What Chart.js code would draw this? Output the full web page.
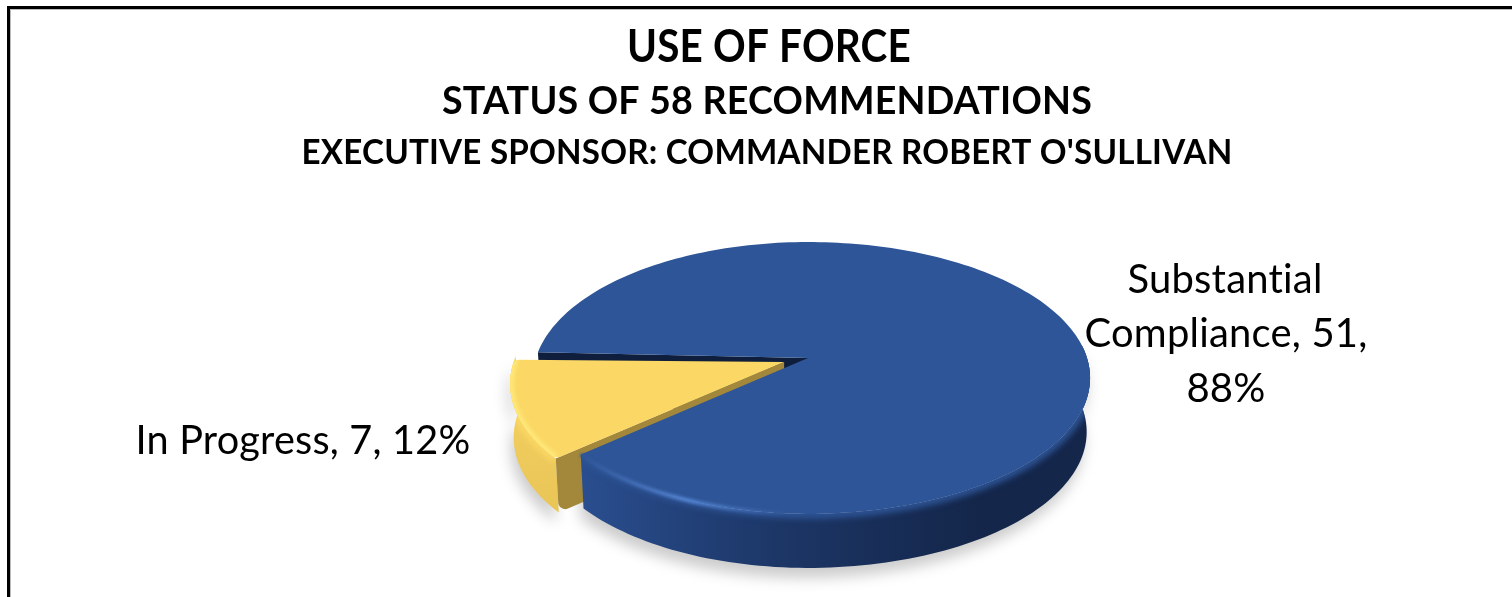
<!DOCTYPE html>
<html>
<head>
<meta charset="utf-8">
<title>Use of Force</title>
<script src="https://cdn.jsdelivr.net/npm/chart.js@4"></script>
<style>
  html, body { margin: 0; background: #fff; overflow: hidden; }
  #wrap { position: relative; width: 1512px; height: 597px; }
  #frame { position: absolute; left: 7px; top: 6px; right: -10px; bottom: -10px;
           border-left: 3px solid #000; border-top: 3px solid #000; box-shadow: inset 1px 1px 0 #bbb; }
  canvas { position: absolute; left: 0; top: 0; }
</style>
</head>
<body>
<div id="wrap">
  <div id="frame"></div>
  <canvas id="pie" width="1512" height="597"></canvas>
</div>
<script>
const categories = ['In Progress', 'Substantial Compliance'];
const counts = [7, 51];
const percents = [12, 88];
const titleLines = ['USE OF FORCE', 'STATUS OF 58 RECOMMENDATIONS', "EXECUTIVE SPONSOR: COMMANDER ROBERT O'SULLIVAN"];

const topColors = ['#FBD865', '#2E5597'];
const rimColors = ['#FFE97A', '#5585D3'];

// how the flat pie gets tipped back
const SCALE_X = 279 / 270, SCALE_Y = 133 / 270, PERSP = 0.147, DEPTH = 54;
const LEFT_SQUEEZE = 0.975;
const EXPLODED_RADIUS = 0.99;

function project(el, u, v, dz) {
    const d = 1 - PERSP * v;
    const shrink = (1 - 0.012 * dz / DEPTH) * (u < 0 ? LEFT_SQUEEZE : 1);
    return [
        el.x + SCALE_X * el.outerRadius * u / d * shrink,
        el.y + SCALE_Y * el.outerRadius * v / d + dz
    ];
}

// points of the slice rim, in flat pie units, shifted by the explode offset
function rim(el) {
    const off = (el.options.offset || 0) / el.outerRadius;
    const size = off ? EXPLODED_RADIUS : 1;
    const mid = (el.startAngle + el.endAngle) / 2;
    const ou = Math.cos(mid) * off, ov = Math.sin(mid) * off;
    const pts = [];
    const steps = Math.ceil((el.endAngle - el.startAngle) * 40);
    for (let i = 0; i <= steps; i++) {
        const a = el.startAngle + (el.endAngle - el.startAngle) * i / steps;
        pts.push([ou + Math.cos(a) * size, ov + Math.sin(a) * size]);
    }
    return { ou, ov, pts };
}

// corners: indexes of the points to round off, the point after a corner gets skipped
function trace(ctx, list, corners = [], r = 0) {
    ctx.beginPath();
    ctx.moveTo(list[0][0], list[0][1]);
    for (let i = 1; i < list.length; i++) {
        if (corners.includes(i)) {
            const next = list[(i + 2) % list.length];
            ctx.arcTo(list[i][0], list[i][1], next[0], next[1], r);
            i++;
        } else {
            ctx.lineTo(list[i][0], list[i][1]);
        }
    }
    ctx.closePath();
}

function topFace(el, r) {
    return [project(el, r.ou, r.ov, 0), ...r.pts.map(p => project(el, p[0], p[1], 0))];
}

function outerWall(el, pts) {
    const front = pts.map(p => project(el, p[0], p[1], 0));
    const back = pts.map(p => project(el, p[0], p[1], DEPTH)).reverse();
    return front.concat(back);
}

function cutWall(el, r, p) {
    const low = project(el, p[0], p[1], DEPTH);
    const tipLow = project(el, r.ou, r.ov, DEPTH);
    return [
        project(el, r.ou, r.ov, 0), project(el, p[0], p[1], 0),
        low, [(low[0] + tipLow[0]) / 2, (low[1] + tipLow[1]) / 2], tipLow
    ];
}

function strokeLine(ctx, list) {
    ctx.beginPath();
    list.forEach((q, i) => i ? ctx.lineTo(q[0], q[1]) : ctx.moveTo(q[0], q[1]));
    ctx.stroke();
}

// top colour bleeding over the wall, so the bevel looks soft
function softEdge(ctx, el, wall, pts, color) {
    ctx.save();
    trace(ctx, wall);
    ctx.clip();
    ctx.filter = 'blur(3px)';
    ctx.strokeStyle = color;
    ctx.lineWidth = 9;
    strokeLine(ctx, pts.map(p => project(el, p[0], p[1], 0)));
    ctx.restore();
}

const pie3d = {
    id: 'pie3d',
    beforeDatasetDraw(chart) {
        const ctx = chart.ctx;
        const [yellow, blue] = chart.getDatasetMeta(0).data;
        const ry = rim(yellow), rb = rim(blue);
        // the back of the blue wall is never seen and must not cover the yellow slice
        const blueFront = rb.pts.filter(p => p[1] > 0 || (p[0] > 0 && p[1] > -0.12));
        const yellowWall = outerWall(yellow, ry.pts);
        const blueWall = outerWall(blue, blueFront);

        // soft ground shadow
        ctx.save();
        ctx.filter = 'blur(7px)';
        ctx.fillStyle = 'rgba(0,0,0,0.2)';
        ctx.translate(-3, 10);
        trace(ctx, blueWall);
        ctx.fill();
        trace(ctx, yellowWall);
        ctx.fill();
        ctx.restore();

        // blue cut face seen through the gap
        ctx.fillStyle = '#0E1E3C';
        trace(ctx, cutWall(blue, rb, rb.pts[0]));
        ctx.fill();

        // yellow slice
        const n = ry.pts.length;
        const wallY = ctx.createLinearGradient(0, 380, 0, 515);
        wallY.addColorStop(0, '#F4D060');
        wallY.addColorStop(1, '#E9C558');
        ctx.fillStyle = wallY;
        trace(ctx, yellowWall, [n], 7);
        ctx.fill();
        ctx.fillStyle = '#A3883B';
        trace(ctx, cutWall(yellow, ry, ry.pts[0]), [2], 7);
        ctx.fill();
        softEdge(ctx, yellow, yellowWall, ry.pts, topColors[0]);
        ctx.fillStyle = topColors[0];
        trace(ctx, topFace(yellow, ry), [1, n - 1], 8);
        ctx.fill();
        // pale band just inside the yellow rim
        ctx.save();
        trace(ctx, topFace(yellow, ry), [1, n - 1], 8);
        ctx.clip();
        ctx.filter = 'blur(2px)';
        ctx.strokeStyle = rimColors[0];
        ctx.lineWidth = 7;
        strokeLine(ctx, ry.pts.map(p => project(yellow, p[0], p[1], 0)));
        ctx.restore();

        // blue slice
        const left = blue.x - SCALE_X * blue.outerRadius;
        const wallB = ctx.createLinearGradient(left + 50, 0, left + 450, 0);
        wallB.addColorStop(0, '#2A4E8F');
        wallB.addColorStop(0.5, '#1C3666');
        wallB.addColorStop(1, '#14264A');
        ctx.fillStyle = wallB;
        trace(ctx, blueWall);
        ctx.fill();
        softEdge(ctx, blue, blueWall, blueFront, topColors[1]);
        ctx.fillStyle = topColors[1];
        trace(ctx, topFace(blue, rb));
        ctx.fill();

        // light streak along the front rim, fading to the right
        const streak = rb.pts.slice(-Math.floor(rb.pts.length * 0.15));
        const line = streak.map(p => project(blue, p[0], p[1], 0));
        const fade = ctx.createLinearGradient(line[line.length - 1][0], 0, line[0][0], 0);
        fade.addColorStop(0, '#2E5597');
        fade.addColorStop(0.5, rimColors[1]);
        fade.addColorStop(1, 'rgba(85,133,211,0)');
        ctx.save();
        ctx.filter = 'blur(1.5px)';
        ctx.strokeStyle = fade;
        ctx.lineWidth = 4;
        strokeLine(ctx, line);
        ctx.restore();
        return false;
    },
    afterDraw(chart) {
        const ctx = chart.ctx;
        ctx.save();
        ctx.fillStyle = '#000';
        ctx.textAlign = 'center';
        ctx.textBaseline = 'middle';
        ctx.letterSpacing = '0.2px';
        ctx.font = 'bold 46px Lato';
        ctx.fillText(titleLines[0], 769, 47, 284);
        ctx.font = 'bold 38px Lato';
        ctx.fillText(titleLines[1], 767, 101.5, 650);
        ctx.font = 'bold 34px Lato';
        ctx.fillText(titleLines[2], 767, 153.5, 931);

        ctx.font = '40px Lato';
        ctx.fillText(`${categories[0]}, ${counts[0]}, ${percents[0]}%`, 303, 441, 335);
        const words = categories[1].split(' ');
        ctx.fillText(words[0], 1225, 280, 197);
        ctx.fillText(`${words[1]}, ${counts[1]},`, 1226, 334, 283);
        ctx.fillText(`${percents[1]}%`, 1226, 389);
        ctx.restore();
    }
};

new Chart(document.getElementById('pie'), {
    type: 'pie',
    data: {
        labels: categories,
        datasets: [{
            data: counts,
            backgroundColor: topColors,
            borderWidth: 0,
            offset: [25, 0],
            hoverOffset: 0
        }]
    },
    options: {
        responsive: false,
        animation: false,
        rotation: 229,
        radius: 270,
        layout: { padding: { left: 104, top: 119 } },
        events: [],
        plugins: { legend: { display: false }, tooltip: { enabled: false } }
    },
    plugins: [pie3d]
});
</script>
</body>
</html>
